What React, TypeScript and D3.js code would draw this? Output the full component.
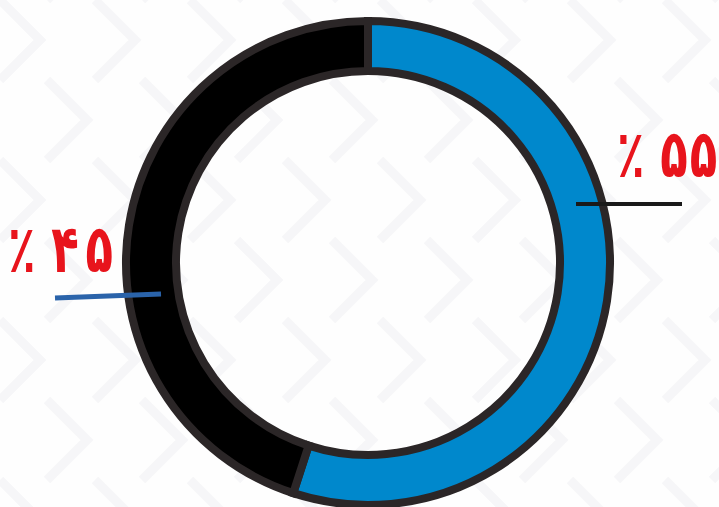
import React from "react";
import * as d3 from "d3";

const categories = ["A", "B"];
const values = [55, 45];
const labels = ["٪ ۵۵", "٪ ۴۵"];
const colors = ["#0088cc", "#000000"];

export default function App() {
  const W = 719, H = 507;
  const cx = 368, cy = 263;
  const pie = d3.pie<number>().sort(null).value((d) => d).startAngle(0).endAngle(2 * Math.PI);
  const arcs = pie(values);
  const arc = d3.arc<d3.PieArcDatum<number>>().innerRadius(192).outerRadius(242);

  const chev: JSX.Element[] = [];
  for (let i = -2; i < 10; i++) {
    for (let j = -2; j < 8; j++) {
      const x = i * 95 + (j % 2 ? 47 : 0);
      const y = j * 80;
      chev.push(
        <path key={`${i}-${j}`} d={`M${x},${y} l40,40 l-40,40`} fill="none" stroke="#f6f6f8" strokeWidth={9} />
      );
    }
  }

  const textStyle = { direction: "ltr", unicodeBidi: "bidi-override" } as React.CSSProperties;
  const renderLabel = (s: string, gap: number) =>
    Array.from(s).map((ch, k, arr) => (
      <tspan key={k} dx={k === arr.length - 1 ? gap : 0}>{ch}</tspan>
    ));

  return (
    <svg width={W} height={H} style={{ position: "absolute", left: 0, top: 0, display: "block" }}>
      <rect width={W} height={H} fill="#fefefe" />
      <g>{chev}</g>
      <g transform={`translate(${cx},${cy})`}>
        {arcs.map((a, i) => (
          <path key={categories[i]} d={arc(a) || ""} fill={colors[i]} stroke="#2b2627" strokeWidth={8} />
        ))}
      </g>
      <line x1={576} y1={204} x2={682} y2={204} stroke="#1a1a1a" strokeWidth={4} />
      <line x1={55} y1={298} x2={161} y2={294} stroke="#2a63aa" strokeWidth={5} />
      <g transform="translate(617,177) scale(0.98,1.45)">
        <text x={0} y={0} fill="#e8141c" fontFamily="DejaVu Sans" fontWeight="bold" fontSize={46} letterSpacing={4} style={textStyle}>{renderLabel(labels[0], 2)}</text>
      </g>
      <g transform="translate(8,272) scale(0.98,1.45)">
        <text x={0} y={0} fill="#e8141c" fontFamily="DejaVu Sans" fontWeight="bold" fontSize={46} letterSpacing={4} style={textStyle}>{renderLabel(labels[1], 7)}</text>
      </g>
    </svg>
  );
}
